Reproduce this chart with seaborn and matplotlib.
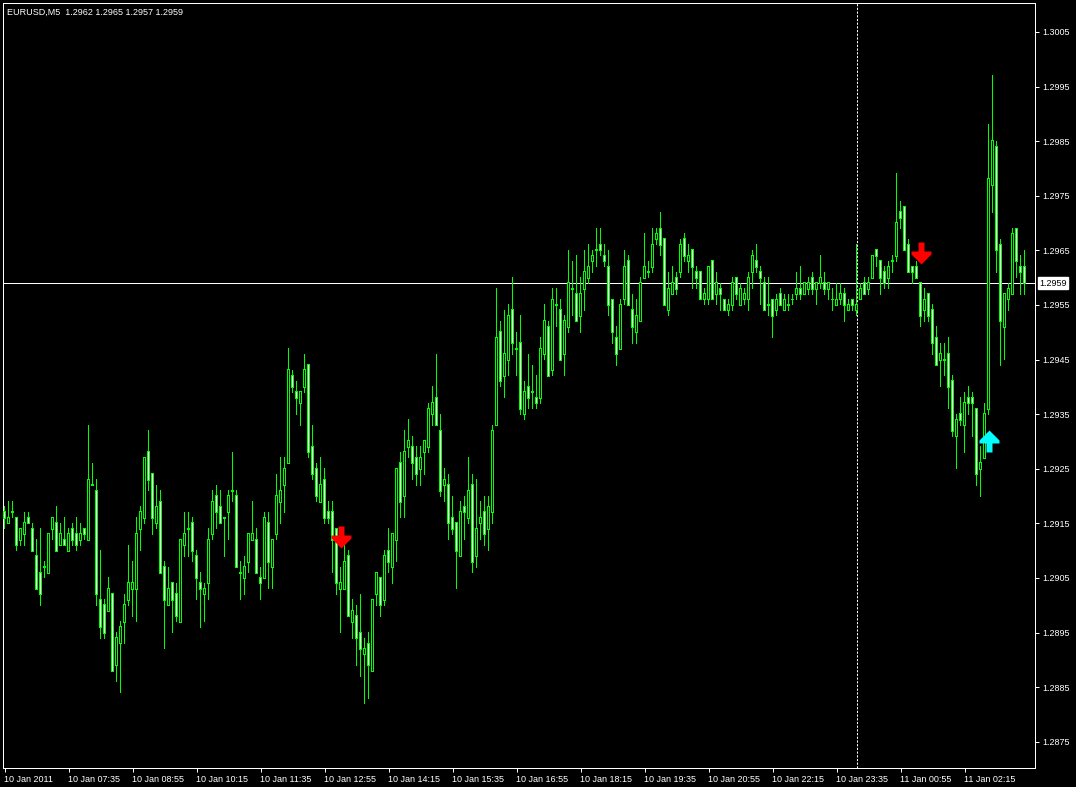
import numpy as np
import seaborn as sns
import matplotlib.pyplot as plt
from matplotlib.path import Path
from matplotlib.transforms import blended_transform_factory

# EURUSD M5 bars, prices in 0.0001 points
open_pts = [
    12917, 12915, 12917, 12916, 12912, 12913, 12916, 12914, 12909, 12906,
    12907, 12906, 12914, 12915, 12911, 12912, 12910, 12914, 12913, 12912,
    12914, 12912, 12922, 12921, 12901, 12900, 12899, 12902, 12889, 12893,
    12897, 12901, 12903, 12903, 12914, 12916, 12928, 12924, 12915, 12919,
    12907, 12900, 12904, 12902, 12897, 12911, 12914, 12915, 12909, 12904,
    12902, 12904, 12913, 12920, 12918, 12916, 12917, 12921, 12920, 12906,
    12905, 12908, 12912, 12912, 12905, 12905, 12915, 12907, 12913, 12919,
    12922, 12926, 12942, 12939, 12937, 12940, 12944, 12929, 12925, 12919,
    12923, 12917, 12917, 12914, 12903, 12903, 12909, 12897, 12898, 12895,
    12891, 12893, 12888, 12902, 12905, 12901, 12910, 12907, 12912, 12926,
    12920, 12929, 12929, 12927, 12925, 12928, 12929, 12935, 12938, 12932,
    12922, 12922, 12916, 12915, 12909, 12918, 12916, 12922, 12909, 12915,
    12917, 12914, 12917, 12933, 12950, 12942, 12945, 12954, 12947, 12948,
    12935, 12940, 12939, 12938, 12938, 12946, 12951, 12943, 12955, 12954,
    12946, 12951, 12958, 12957, 12953, 12958, 12960, 12963, 12965, 12966,
    12964, 12962, 12956, 12949, 12947, 12956, 12963, 12954, 12950, 12952,
    12960, 12961, 12962, 12967, 12969, 12967, 12954, 12957, 12960, 12961,
    12967, 12963, 12965, 12961, 12961, 12956, 12956, 12963, 12957, 12958,
    12956, 12954, 12955, 12960, 12955, 12956, 12956, 12961, 12963, 12961,
    12959, 12955, 12956, 12954, 12957, 12954, 12955, 12956, 12957, 12958,
    12957, 12958, 12960, 12958, 12959, 12959, 12958, 12956, 12955, 12956,
    12957, 12954, 12956, 12954, 12956, 12959, 12958, 12960, 12965, 12963,
    12961, 12960, 12963, 12964, 12972, 12973, 12966, 12962, 12962, 12959,
    12954, 12957, 12954, 12949, 12945, 12945, 12946, 12941, 12931, 12935,
    12933, 12938, 12938, 12936, 12925, 12927, 12936, 12977, 12984, 12966,
    12951, 12956, 12957, 12969, 12962, 12962,
]
high_pts = [
    12918, 12919, 12919, 12916, 12914, 12917, 12917, 12915, 12912, 12914,
    12908, 12913, 12916, 12918, 12915, 12916, 12914, 12915, 12916, 12915,
    12914, 12933, 12926, 12923, 12910, 12901, 12905, 12902, 12895, 12897,
    12902, 12911, 12908, 12916, 12918, 12927, 12932, 12924, 12922, 12921,
    12908, 12907, 12904, 12904, 12912, 12917, 12917, 12916, 12910, 12906,
    12904, 12914, 12921, 12922, 12921, 12916, 12921, 12928, 12921, 12908,
    12909, 12913, 12919, 12914, 12907, 12917, 12917, 12912, 12924, 12927,
    12927, 12947, 12943, 12941, 12939, 12946, 12944, 12933, 12926, 12927,
    12925, 12919, 12919, 12914, 12907, 12911, 12910, 12901, 12900, 12902,
    12894, 12895, 12901, 12906, 12905, 12910, 12914, 12913, 12925, 12928,
    12932, 12934, 12931, 12929, 12929, 12930, 12937, 12940, 12946, 12935,
    12925, 12924, 12920, 12915, 12919, 12920, 12927, 12924, 12923, 12919,
    12920, 12920, 12933, 12958, 12952, 12954, 12955, 12960, 12950, 12953,
    12941, 12946, 12944, 12942, 12949, 12955, 12952, 12958, 12958, 12956,
    12953, 12965, 12963, 12964, 12960, 12965, 12966, 12965, 12969, 12969,
    12966, 12965, 12956, 12951, 12956, 12965, 12964, 12957, 12956, 12960,
    12968, 12963, 12969, 12969, 12972, 12967, 12961, 12962, 12961, 12967,
    12968, 12966, 12965, 12962, 12961, 12958, 12962, 12963, 12961, 12959,
    12956, 12956, 12960, 12960, 12959, 12958, 12961, 12965, 12966, 12962,
    12960, 12960, 12956, 12957, 12958, 12957, 12957, 12957, 12961, 12962,
    12959, 12960, 12961, 12959, 12964, 12961, 12959, 12958, 12959, 12959,
    12958, 12956, 12956, 12966, 12959, 12960, 12960, 12964, 12965, 12963,
    12962, 12963, 12964, 12979, 12974, 12973, 12967, 12962, 12963, 12959,
    12958, 12957, 12955, 12951, 12948, 12948, 12949, 12942, 12935, 12938,
    12939, 12940, 12939, 12936, 12929, 12937, 12988, 12997, 12985, 12967,
    12957, 12959, 12969, 12969, 12964, 12965,
]
low_pts = [
    12914, 12915, 12916, 12910, 12911, 12911, 12915, 12910, 12903, 12900,
    12905, 12906, 12912, 12910, 12911, 12911, 12910, 12911, 12910, 12911,
    12912, 12912, 12922, 12900, 12894, 12894, 12899, 12888, 12886, 12884,
    12893, 12900, 12898, 12897, 12910, 12915, 12921, 12913, 12914, 12906,
    12892, 12900, 12895, 12897, 12897, 12909, 12909, 12908, 12901, 12896,
    12897, 12901, 12912, 12914, 12915, 12909, 12912, 12919, 12907, 12901,
    12902, 12906, 12912, 12906, 12901, 12905, 12903, 12903, 12912, 12915,
    12917, 12926, 12939, 12935, 12933, 12939, 12927, 12923, 12919, 12919,
    12915, 12915, 12906, 12902, 12895, 12903, 12898, 12894, 12889, 12887,
    12882, 12883, 12888, 12900, 12898, 12900, 12906, 12904, 12908, 12916,
    12916, 12927, 12923, 12922, 12922, 12924, 12928, 12933, 12933, 12920,
    12919, 12912, 12913, 12903, 12909, 12912, 12915, 12906, 12907, 12912,
    12911, 12910, 12915, 12933, 12940, 12938, 12942, 12946, 12942, 12935,
    12934, 12936, 12936, 12936, 12937, 12945, 12942, 12942, 12951, 12945,
    12942, 12950, 12953, 12952, 12950, 12954, 12959, 12961, 12962, 12964,
    12962, 12953, 12948, 12944, 12947, 12955, 12955, 12948, 12948, 12952,
    12960, 12960, 12961, 12966, 12964, 12955, 12953, 12957, 12957, 12960,
    12963, 12961, 12958, 12958, 12956, 12955, 12955, 12956, 12955, 12954,
    12954, 12953, 12954, 12956, 12955, 12955, 12954, 12958, 12961, 12955,
    12954, 12953, 12949, 12953, 12955, 12954, 12954, 12955, 12956, 12956,
    12957, 12957, 12957, 12955, 12958, 12957, 12956, 12954, 12955, 12955,
    12952, 12954, 12954, 12953, 12956, 12957, 12957, 12960, 12962, 12957,
    12958, 12958, 12961, 12963, 12969, 12965, 12961, 12959, 12960, 12951,
    12952, 12952, 12946, 12944, 12940, 12942, 12936, 12931, 12925, 12933,
    12928, 12935, 12931, 12922, 12920, 12927, 12935, 12972, 12961, 12944,
    12945, 12954, 12957, 12960, 12957, 12957,
]
close_pts = [
    12916, 12916, 12917, 12911, 12914, 12915, 12915, 12910, 12903, 12902,
    12907, 12913, 12916, 12910, 12913, 12911, 12913, 12912, 12911, 12913,
    12913, 12923, 12922, 12902, 12896, 12895, 12903, 12888, 12894, 12896,
    12900, 12904, 12904, 12913, 12917, 12927, 12923, 12916, 12918, 12906,
    12901, 12903, 12901, 12898, 12912, 12913, 12914, 12910, 12905, 12903,
    12903, 12912, 12919, 12917, 12915, 12916, 12920, 12921, 12907, 12906,
    12907, 12913, 12913, 12906, 12904, 12916, 12908, 12912, 12920, 12921,
    12925, 12943, 12940, 12938, 12939, 12943, 12928, 12924, 12920, 12922,
    12916, 12916, 12912, 12904, 12904, 12908, 12898, 12899, 12894, 12892,
    12892, 12889, 12901, 12906, 12900, 12909, 12908, 12913, 12925, 12919,
    12928, 12930, 12926, 12924, 12927, 12930, 12936, 12937, 12933, 12921,
    12923, 12915, 12914, 12910, 12917, 12917, 12921, 12908, 12914, 12916,
    12913, 12918, 12932, 12949, 12941, 12946, 12953, 12948, 12947, 12936,
    12939, 12938, 12939, 12937, 12947, 12952, 12942, 12956, 12955, 12945,
    12952, 12959, 12958, 12952, 12957, 12961, 12962, 12964, 12965, 12965,
    12963, 12955, 12950, 12946, 12955, 12962, 12955, 12951, 12953, 12959,
    12962, 12961, 12966, 12968, 12966, 12955, 12958, 12959, 12958, 12966,
    12964, 12964, 12962, 12960, 12956, 12957, 12962, 12956, 12959, 12957,
    12954, 12955, 12959, 12957, 12958, 12957, 12960, 12964, 12962, 12960,
    12954, 12955, 12953, 12956, 12955, 12956, 12955, 12956, 12958, 12957,
    12959, 12959, 12958, 12959, 12960, 12958, 12959, 12956, 12956, 12957,
    12955, 12955, 12955, 12955, 12958, 12957, 12959, 12964, 12964, 12960,
    12959, 12962, 12963, 12970, 12971, 12965, 12961, 12961, 12960, 12953,
    12956, 12953, 12948, 12944, 12946, 12945, 12940, 12932, 12934, 12934,
    12937, 12937, 12937, 12924, 12926, 12935, 12978, 12985, 12965, 12952,
    12957, 12958, 12968, 12963, 12961, 12959,
]

time_labels = ["10 Jan 2011", "10 Jan 07:35", "10 Jan 08:55", "10 Jan 10:15",
               "10 Jan 11:35", "10 Jan 12:55", "10 Jan 14:15", "10 Jan 15:35",
               "10 Jan 16:55", "10 Jan 18:15", "10 Jan 19:35", "10 Jan 20:55",
               "10 Jan 22:15", "10 Jan 23:35", "11 Jan 00:55", "11 Jan 02:15"]
label_every = 16

price_ticks = [1.2875, 1.2885, 1.2895, 1.2905, 1.2915, 1.2925, 1.2935,
               1.2945, 1.2955, 1.2965, 1.2975, 1.2985, 1.2995, 1.3005]

# arrow signals (bar index, price level)
sell_bars = [84, 229]
sell_prices = [1.29125, 1.29645]
buy_bars = [246]
buy_prices = [1.2930]

separator_bar = 213

o = np.array(open_pts) / 1e4
h = np.array(high_pts) / 1e4
l = np.array(low_pts) / 1e4
c = np.array(close_pts) / 1e4
x = np.arange(len(o))

sns.set_theme(style="ticks", rc={"axes.facecolor": "black",
                                 "figure.facecolor": "black",
                                 "axes.edgecolor": "white"})
plt.rcParams['font.family'] = ['Liberation Sans', 'DejaVu Sans']

fig = plt.figure(figsize=(10.76, 7.87), dpi=100)
ax = fig.add_axes([3 / 1076, 19 / 787, 1032 / 1076, 765 / 787])

green = "#00ff00"
px = 0.72  # one pixel in points
ylo, yhi = 1.28702, 1.30103
py = (yhi - ylo) / 765  # one pixel in price units

ax.axhline(c[-1], color="white", lw=px, zorder=1)
ax.axvline(separator_bar, color="white", lw=px, dashes=(2.2, 1.5), zorder=1)

# wicks, no snapping so they stay in the body's centre column
ax.vlines(x, l, h, color=green, lw=px, antialiased=False, snap=False,
          zorder=2)

# body: 3 px green block with a 1 px inner fill (white = down, black = up)
top = np.maximum(o, c)
bot = np.minimum(o, c)
ax.bar(x, top - bot + py, bottom=bot - py / 2, width=0.7, color=green,
       linewidth=0, antialiased=False, snap=False, zorder=3)
inner = (top - bot) > 1.5 * py
bull = c > o
fill = np.where(bull, "black", "white")
ax.bar(x[inner], (top - bot - py)[inner], bottom=(bot + py / 2)[inner],
       width=0.2, color=fill[inner], linewidth=0, antialiased=False,
       snap=False, zorder=4)

# wingdings style arrows
down_verts = [(-3, 11), (3, 11), (3, 2), (10, 2), (10, -1), (0, -11),
              (-10, -1), (-10, 2), (-3, 2), (-3, 11)]
down_arrow = Path(down_verts, closed=True)
up_arrow = Path([(vx, -vy) for vx, vy in down_verts], closed=True)
sns.scatterplot(x=sell_bars, y=sell_prices, marker=down_arrow, s=250,
                color="#ff0000", linewidth=0, ax=ax, zorder=5)
sns.scatterplot(x=buy_bars, y=buy_prices, marker=up_arrow, s=250,
                color="#00ffff", linewidth=0, ax=ax, zorder=5)

# 4 px per bar, bar centres on pixel centres
ax.set_xlim(-0.375, 257.625)
ax.set_ylim(ylo, yhi)

ax.yaxis.tick_right()
ax.set_yticks(price_ticks)
ax.set_yticklabels([f"{p:.4f}" for p in price_ticks])
ax.set_xticks(x[::label_every][:len(time_labels)])
ax.set_xticklabels(time_labels, ha="left")
ax.tick_params(axis="both", colors="white", labelcolor="white", length=3,
               width=px, labelsize=6.5, pad=2)
for sp in ax.spines.values():
    sp.set_color("white")
    sp.set_linewidth(px)

# current price box
trans = blended_transform_factory(ax.transAxes, ax.transData)
ax.text(1.004, c[-1], f"{c[-1]:.4f}", transform=trans, fontsize=6.5,
        color="black", va="center", ha="left",
        bbox=dict(boxstyle="square,pad=0.15", fc="white", ec="white"))

fig.text(7 / 1076, 1 - 12 / 787,
         f"EURUSD,M5  {o[-1]:.4f} {h[-1]:.4f} {l[-1]:.4f} {c[-1]:.4f}",
         color="white", fontsize=6.5, va="center", ha="left")

plt.savefig("out.png", dpi=100, facecolor="black")
